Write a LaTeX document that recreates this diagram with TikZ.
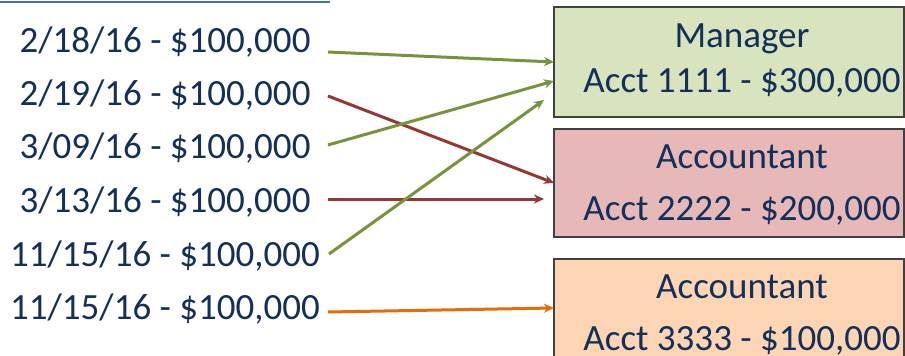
\documentclass[tikz,border=0pt]{standalone}
\usepackage{fontspec}
\setmainfont{Carlito}
\usetikzlibrary{arrows.meta}
\definecolor{txt}{HTML}{132F5A}
\definecolor{grfill}{HTML}{D7E4BD}
\definecolor{rdfill}{HTML}{E6B9B8}
\definecolor{orfill}{HTML}{FCD5B5}
\definecolor{grline}{HTML}{77933C}
\definecolor{rdline}{HTML}{953735}
\definecolor{orline}{HTML}{E46C0A}
\definecolor{topline}{HTML}{4A6FA5}
\tikzset{
  datetext/.style={anchor=base, inner sep=0pt, text=txt, font=\fontsize{37}{44}\selectfont},
  boxtext/.style={anchor=base, inner sep=0pt, text=txt, font=\fontsize{37}{44}\selectfont},
  acctbox/.style={draw=black!75, line width=1.3pt},
  conn/.style={line width=3pt, -{Stealth[length=10pt,width=9pt]}},
}
\begin{document}
\begin{tikzpicture}[x=1pt,y=-1pt]
\useasboundingbox (0,0) rectangle (905,356);
\draw[topline, line width=2pt] (0,1.5) -- (330,1.5);
% boxes
\filldraw[acctbox, fill=grfill] (554,7) rectangle (904,117);
\filldraw[acctbox, fill=rdfill] (554,129) rectangle (904,237);
\filldraw[acctbox, fill=orfill] (554,259) rectangle (904,380);
\node[boxtext] (m1) at (742,47) {Manager};
\node[boxtext] (m2) at (742,92) {Acct 1111 - \$300,000};
\node[boxtext] (a1) at (742,168) {Accountant};
\node[boxtext] (a2) at (742,220) {Acct 2222 - \$200,000};
\node[boxtext] (b1) at (742,298) {Accountant};
\node[boxtext] (b2) at (742,350) {Acct 3333 - \$100,000};
% dates
\node[datetext] (d1) at (165,52) {2/18/16 - \$100,000};
\node[datetext] (d2) at (165,105) {2/19/16 - \$100,000};
\node[datetext] (d3) at (165,158) {3/09/16 - \$100,000};
\node[datetext] (d4) at (165,212) {3/13/16 - \$100,000};
\node[datetext] (d5) at (165,266) {11/15/16 - \$100,000};
\node[datetext] (d6) at (165,319) {11/15/16 - \$100,000};
% connector ends
\coordinate (s1) at (328,52);
\coordinate (s2) at (328,96);
\coordinate (s3) at (328,145);
\coordinate (s4) at (328,199);
\coordinate (s5) at (329,254);
\coordinate (s6) at (328,312);
\coordinate (e1) at (554,62);
\coordinate (e2) at (554,183);
\coordinate (e3) at (554,81);
\coordinate (e4) at (544,199);
\coordinate (e5) at (544,100);
\coordinate (e6) at (554,308);
\draw[conn, grline] (s1) -- (e1);
\draw[conn, rdline] (s2) -- (e2);
\draw[conn, grline] (s3) -- (e3);
\draw[conn, rdline] (s4) -- (e4);
\draw[conn, grline] (s5) -- (e5);
\draw[conn, orline] (s6) -- (e6);
\end{tikzpicture}
\end{document}
